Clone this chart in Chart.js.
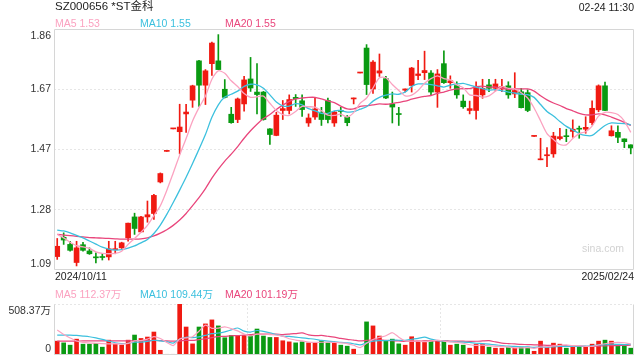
<!DOCTYPE html>
<html><head><meta charset="utf-8">
<script src="https://cdn.jsdelivr.net/npm/chart.js@4.4.1/dist/chart.umd.min.js"></script>
<style>
body{margin:0;background:#fff;}
#wrap{position:relative;width:640px;height:360px;overflow:hidden;font-family:"Liberation Sans",Arial,"Noto Sans CJK SC",sans-serif;}
canvas{position:absolute;left:0;}
.t{position:absolute;white-space:nowrap;line-height:1;font-size:10.5px;}
</style></head><body>
<div id="wrap">
<canvas id="kline" width="640" height="280" style="top:0"></canvas>
<canvas id="vol" width="640" height="75" style="top:285px"></canvas>
<div class="t" style="left:55px;top:1px;font-size:11.5px;color:#222">SZ000656 *ST金科</div>
<div class="t" style="right:6px;top:2px;color:#222">02-24 11:30</div>
<div class="t" style="left:55px;top:18px;color:#fba2c0">MA5 1.53</div>
<div class="t" style="left:140px;top:18px;color:#3cc0de">MA10 1.55</div>
<div class="t" style="left:225px;top:18px;color:#e9467c">MA20 1.55</div>
<div class="t" style="left:582px;top:243px;color:#d2d2d2">sina.com</div>
<div class="t" id="d0" style="left:55px;top:271px;color:#222"></div>
<div class="t" id="d1" style="right:6px;top:271px;color:#222"></div>
<div class="t" style="left:55px;top:289px;color:#fba2c0">MA5 112.37万</div>
<div class="t" style="left:140px;top:289px;color:#3cc0de">MA10 109.44万</div>
<div class="t" style="left:225px;top:289px;color:#e9467c">MA20 101.19万</div>
</div>
<script>
const dates=['2024/10/11','2024/10/14','2024/10/15','2024/10/16','2024/10/17','2024/10/18','2024/10/21','2024/10/22','2024/10/23','2024/10/24','2024/10/25','2024/10/28','2024/10/29','2024/10/30','2024/10/31',
'2024/11/01','2024/11/04','2024/11/05','2024/11/06','2024/11/07','2024/11/08','2024/11/11','2024/11/12','2024/11/13','2024/11/14','2024/11/15','2024/11/18','2024/11/19','2024/11/20','2024/11/21','2024/11/22','2024/11/25','2024/11/26','2024/11/27','2024/11/28','2024/11/29',
'2024/12/02','2024/12/03','2024/12/04','2024/12/05','2024/12/06','2024/12/09','2024/12/10','2024/12/11','2024/12/12','2024/12/13','2024/12/16','2024/12/17','2024/12/18','2024/12/19','2024/12/20','2024/12/23','2024/12/24','2024/12/25','2024/12/26','2024/12/27','2024/12/30','2024/12/31',
'2025/01/02','2025/01/03','2025/01/06','2025/01/07','2025/01/08','2025/01/09','2025/01/10','2025/01/13','2025/01/14','2025/01/15','2025/01/16','2025/01/17','2025/01/20','2025/01/21','2025/01/22','2025/01/23','2025/01/24','2025/01/27',
'2025/02/05','2025/02/06','2025/02/07','2025/02/10','2025/02/11','2025/02/12','2025/02/13','2025/02/14','2025/02/17','2025/02/18','2025/02/19','2025/02/20','2025/02/21','2025/02/24'];

const open=[1.130,1.192,1.169,1.111,1.168,1.148,1.129,1.130,1.129,1.152,
1.158,1.190,1.257,1.209,1.257,1.268,1.369,1.467,1.539,1.530,
1.587,1.631,1.757,1.679,1.748,1.757,1.666,1.586,1.569,1.619,
1.699,1.657,1.657,1.539,1.518,1.598,1.598,1.640,1.629,1.558,
1.577,1.592,1.630,1.558,1.598,1.576,1.635,1.718,1.798,1.667,
1.718,1.700,1.619,1.587,1.663,1.678,1.710,1.719,1.718,1.657,
1.748,1.687,1.678,1.628,1.598,1.598,1.648,1.680,1.669,1.667,
1.677,1.651,1.658,1.655,1.515,1.440,1.453,1.459,1.508,1.516,
1.531,1.541,1.538,1.559,1.600,1.677,1.517,1.528,1.507,1.488];
const high=[1.188,1.206,1.179,1.179,1.176,1.158,1.142,1.140,1.179,1.179,
1.176,1.237,1.269,1.259,1.308,1.329,1.398,1.467,1.539,1.618,
1.618,1.679,1.759,1.729,1.817,1.841,1.697,1.608,1.638,1.707,
1.768,1.748,1.659,1.540,1.592,1.630,1.648,1.649,1.648,1.587,
1.640,1.608,1.638,1.595,1.608,1.582,1.638,1.718,1.809,1.758,
1.779,1.707,1.657,1.608,1.667,1.736,1.759,1.788,1.726,1.729,
1.789,1.709,1.690,1.648,1.628,1.690,1.698,1.698,1.698,1.698,
1.690,1.719,1.669,1.664,1.515,1.509,1.479,1.528,1.541,1.538,
1.568,1.548,1.578,1.629,1.680,1.689,1.549,1.549,1.507,1.488];
const low=[1.121,1.169,1.147,1.100,1.147,1.137,1.110,1.119,1.119,1.139,
1.156,1.179,1.201,1.209,1.240,1.249,1.366,1.467,1.539,1.459,
1.528,1.608,1.611,1.617,1.710,1.729,1.638,1.557,1.559,1.596,
1.659,1.587,1.567,1.489,1.517,1.569,1.587,1.611,1.579,1.547,
1.569,1.550,1.558,1.547,1.579,1.549,1.619,1.718,1.649,1.653,
1.707,1.636,1.558,1.550,1.657,1.657,1.697,1.697,1.647,1.608,
1.685,1.669,1.637,1.605,1.587,1.570,1.637,1.658,1.661,1.658,
1.637,1.639,1.606,1.594,1.515,1.440,1.418,1.448,1.504,1.498,
1.512,1.509,1.525,1.552,1.594,1.597,1.516,1.495,1.479,1.459];
const close=[1.163,1.183,1.150,1.158,1.150,1.139,1.126,1.127,1.155,1.154,
1.174,1.237,1.220,1.257,1.264,1.326,1.396,1.467,1.539,1.545,
1.593,1.677,1.679,1.725,1.814,1.729,1.640,1.559,1.635,1.696,
1.670,1.649,1.569,1.521,1.583,1.604,1.633,1.636,1.601,1.574,
1.603,1.569,1.569,1.593,1.595,1.559,1.638,1.718,1.681,1.753,
1.725,1.638,1.609,1.585,1.667,1.734,1.715,1.726,1.657,1.715,
1.687,1.693,1.648,1.610,1.604,1.674,1.669,1.669,1.683,1.674,
1.648,1.662,1.607,1.598,1.515,1.442,1.456,1.516,1.514,1.514,
1.538,1.538,1.544,1.605,1.677,1.598,1.533,1.512,1.498,1.478];
const ma5=[1.201,1.190,1.176,1.165,1.161,1.156,1.145,1.140,1.139,1.140,
1.147,1.169,1.188,1.208,1.230,1.261,1.293,1.342,1.398,1.455,
1.508,1.564,1.607,1.644,1.698,1.725,1.717,1.693,1.675,1.652,
1.640,1.642,1.644,1.621,1.598,1.585,1.582,1.595,1.611,1.610,
1.609,1.597,1.583,1.582,1.586,1.577,1.591,1.621,1.638,1.670,
1.703,1.703,1.681,1.662,1.645,1.647,1.662,1.685,1.700,1.709,
1.700,1.696,1.680,1.671,1.648,1.646,1.641,1.645,1.660,1.674,
1.669,1.667,1.655,1.638,1.606,1.565,1.524,1.505,1.489,1.488,
1.508,1.524,1.530,1.548,1.580,1.592,1.591,1.585,1.564,1.528];
const ma10=[1.215,1.212,1.206,1.198,1.190,1.180,1.170,1.160,1.154,1.151,
1.152,1.157,1.164,1.174,1.185,1.204,1.231,1.265,1.303,1.343,
1.384,1.428,1.474,1.521,1.576,1.616,1.641,1.650,1.660,1.675,
1.682,1.680,1.669,1.648,1.625,1.613,1.612,1.620,1.616,1.604,
1.597,1.589,1.589,1.597,1.598,1.593,1.594,1.602,1.610,1.628,
1.640,1.647,1.651,1.650,1.657,1.675,1.683,1.683,1.681,1.677,
1.673,1.679,1.683,1.685,1.679,1.673,1.668,1.663,1.665,1.661,
1.657,1.654,1.650,1.649,1.640,1.617,1.595,1.580,1.563,1.547,
1.536,1.524,1.518,1.518,1.534,1.550,1.558,1.557,1.556,1.552];
const ma20=[1.201,1.199,1.197,1.195,1.193,1.191,1.190,1.189,1.188,1.187,
1.186,1.186,1.186,1.187,1.190,1.196,1.205,1.216,1.230,1.247,
1.268,1.293,1.319,1.348,1.381,1.410,1.436,1.458,1.482,1.509,
1.533,1.554,1.572,1.585,1.601,1.615,1.627,1.635,1.638,1.640,
1.640,1.635,1.629,1.623,1.612,1.603,1.603,1.611,1.613,1.616,
1.619,1.618,1.620,1.624,1.628,1.634,1.639,1.643,1.646,1.653,
1.657,1.663,1.667,1.668,1.668,1.674,1.676,1.673,1.673,1.669,
1.665,1.667,1.667,1.667,1.660,1.645,1.632,1.622,1.614,1.604,
1.597,1.589,1.584,1.584,1.587,1.584,1.577,1.569,1.560,1.550];
// 成交量，单位：万
const vol=[138,121,98,158,108,108,115,78,148,108,
98,148,199,165,179,229,47,7,7,508,
279,111,279,310,350,290,172,195,195,195,
195,259,189,175,175,142,131,121,131,121,
121,142,121,121,98,88,58,7,330,290,
189,142,158,111,98,182,138,138,138,142,
138,98,108,98,68,108,108,78,68,68,
74,68,78,78,37,138,78,118,108,68,
88,88,78,108,138,148,138,98,88,68];
const volMa5=[249,205,170,140,125,119,117,113,111,111,
109,116,140,144,158,184,164,125,94,160,
170,182,237,297,266,268,280,263,240,209,
190,208,207,203,199,188,162,149,140,129,
125,127,127,125,121,114,97,74,116,155,
175,192,222,178,140,138,137,133,139,148,
139,131,125,117,102,96,98,92,86,86,
79,71,71,73,67,80,82,90,96,102,
92,94,86,86,100,112,122,126,122,110];
const volMa10=[199,199,198,195,189,182,170,155,138,122,
114,117,127,128,135,147,140,133,119,159,
177,173,181,196,213,219,231,250,269,238,
229,244,235,222,204,189,185,178,171,164,
157,145,138,133,125,120,112,101,121,138,
144,144,148,147,147,157,165,178,158,144,
139,134,129,128,125,117,114,108,101,94,
88,85,82,80,77,80,77,81,85,85,
86,88,88,91,101,102,108,106,104,106];
const volMa20=[138,138,139,139,140,140,140,140,141,141,
141,141,142,142,143,145,143,140,138,139,
146,145,154,162,174,183,186,192,194,199,
203,209,208,209,209,204,208,214,220,201,
193,195,187,178,165,155,149,140,146,151,
151,145,143,140,136,139,139,140,140,141,
142,139,139,138,136,137,140,143,130,119,
114,110,106,104,101,99,96,95,93,90,
87,87,85,86,89,91,93,94,95,97];
const priceTicks=[1.087,1.280,1.473,1.666,1.859];
const volTicks=[0,508.37];

const UP='#f01a12',DOWN='#0a9a12',C5='#fba2c0',C10='#3cc0de',C20='#e9467c';
const GRID='#e6e6e6',FRAME='#d6d6d6';
const FONT='10.5px "Liberation Sans", Arial, "Noto Sans CJK SC", sans-serif';
const candleColor=close.map((c,i)=>c>=open[i]?UP:DOWN);

document.getElementById('d0').textContent=dates[0];
document.getElementById('d1').textContent=dates[dates.length-1];

// 左侧刻度文字：首尾两个往里收
function axisLabels(fmt,sides){
return {id:'axisLabels',afterDraw(chart){
const ctx=chart.ctx,a=chart.chartArea,s=chart.scales.y;
ctx.save();
ctx.font=FONT;ctx.fillStyle='#333';ctx.textAlign='right';ctx.textBaseline='middle';
s.ticks.forEach(t=>{
let y=s.getPixelForValue(t.value);
y=Math.min(Math.max(y,a.top+7),a.bottom-6);
ctx.fillText(fmt(t.value),51,y);
});
ctx.strokeStyle=FRAME;ctx.lineWidth=1;
ctx.beginPath();
if(sides.top){ctx.moveTo(a.left+0.5,a.top+0.5);ctx.lineTo(a.right-0.5,a.top+0.5);}
ctx.moveTo(a.left+0.5,a.top+0.5);ctx.lineTo(a.left+0.5,a.bottom-0.5);
ctx.lineTo(a.right-0.5,a.bottom-0.5);ctx.lineTo(a.right-0.5,a.top+0.5);
ctx.stroke();
ctx.restore();
}};
}

function maLine(data,color,w){
return {type:'line',data,borderColor:color,borderWidth:w,pointRadius:0,tension:0.25,order:1};
}

new Chart(document.getElementById('kline'),{
type:'bar',
data:{labels:dates,datasets:[
maLine(ma5,C5,1.3),maLine(ma10,C10,1.3),maLine(ma20,C20,1.3),
{data:dates.map((d,i)=>[low[i],high[i]]),backgroundColor:candleColor,barThickness:1,grouped:false,order:2},
{data:dates.map((d,i)=>[open[i],close[i]]),backgroundColor:candleColor,barThickness:5,minBarLength:1,grouped:false,order:2}
]},
options:{responsive:false,animation:false,devicePixelRatio:1,
layout:{padding:{left:0,right:6,top:29,bottom:10}},
plugins:{legend:{display:false},tooltip:{enabled:false}},
scales:{
x:{display:false,offset:true},
y:{min:priceTicks[0],max:priceTicks[priceTicks.length-1],
afterFit:s=>{s.width=54},
afterBuildTicks:s=>{s.ticks=priceTicks.map(v=>({value:v}))},
ticks:{display:false},
border:{display:false,dash:[2,2]},
grid:{drawTicks:false,lineWidth:1,color:c=>(c.index===0||c.index===priceTicks.length-1)?'rgba(0,0,0,0)':GRID}}
}},
plugins:[axisLabels(v=>v.toFixed(2),{top:true})]
});

new Chart(document.getElementById('vol'),{
type:'bar',
data:{labels:dates,datasets:[
maLine(volMa5,C5,1.2),maLine(volMa10,C10,1.2),maLine(volMa20,C20,1.2),
{data:vol,backgroundColor:candleColor,barThickness:4,order:2}
]},
options:{responsive:false,animation:false,devicePixelRatio:1,
layout:{padding:{left:0,right:6,top:19,bottom:5}},
plugins:{legend:{display:false},tooltip:{enabled:false}},
scales:{
x:{display:true,offset:true,afterFit:s=>{s.height=0},
ticks:{display:false,autoSkip:false},
border:{display:false,dash:[2,2]},
grid:{offset:true,drawTicks:false,lineWidth:1,color:c=>(c.index===30||c.index===60)?GRID:'rgba(0,0,0,0)'}},
y:{min:0,max:volTicks[1],
afterFit:s=>{s.width=54},
afterBuildTicks:s=>{s.ticks=volTicks.map(v=>({value:v}))},
ticks:{display:false},
border:{display:false,dash:[2,2]},
grid:{drawTicks:false,lineWidth:1,color:c=>c.index===1?GRID:'rgba(0,0,0,0)'}}
}},
plugins:[axisLabels(v=>v===0?'0':v.toFixed(2)+'万',{top:false})]
});
</script>
</body></html>
